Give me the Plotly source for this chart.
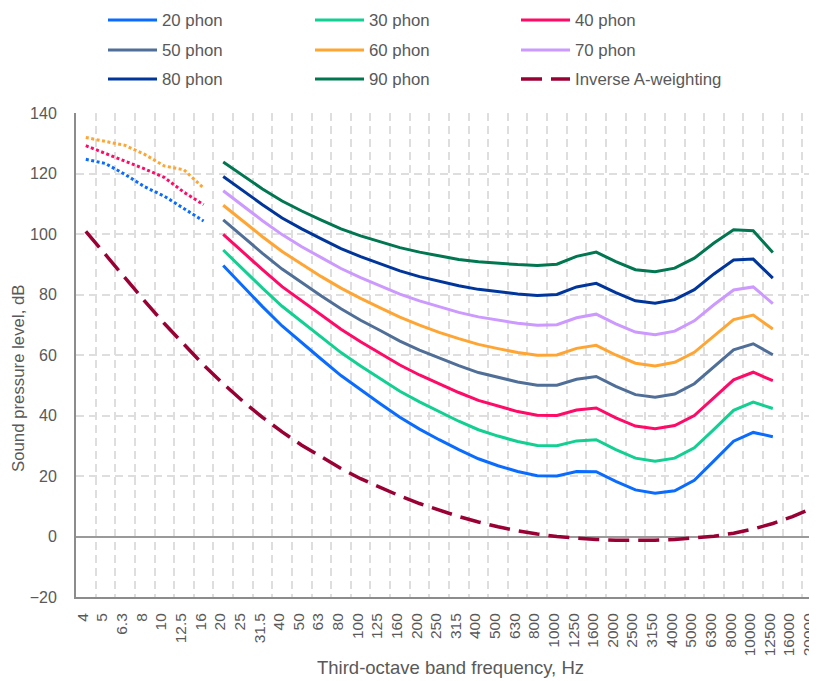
import plotly.graph_objects as go

freqs = ["4", "5", "6.3", "8", "10", "12.5", "16", "20", "25", "31.5", "40", "50", "63",
         "80", "100", "125", "160", "200", "250", "315", "400", "500", "630", "800",
         "1000", "1250", "1600", "2000", "2500", "3150", "4000", "5000", "6300", "8000",
         "10000", "12500", "16000", "20000"]
contour_freqs = freqs[7:36]
infra_freqs = freqs[0:7]

phon20 = [89.6, 82.7, 76.0, 69.6, 64.0, 58.6, 53.2, 48.4, 43.9, 39.4, 35.5, 32.0, 28.7, 25.7, 23.4,
          21.5, 20.1, 20.0, 21.5, 21.4, 18.2, 15.4, 14.3, 15.1, 18.6, 25.0, 31.5, 34.4, 33.0]
phon30 = [94.7, 88.3, 82.1, 76.1, 70.9, 65.8, 60.8, 56.4, 52.3, 48.0, 44.5, 41.2, 38.1, 35.3, 33.2,
          31.4, 30.1, 30.0, 31.6, 32.0, 28.7, 25.9, 24.9, 25.9, 29.3, 35.4, 41.7, 44.4, 42.3]
phon40 = [99.9, 93.9, 88.2, 82.6, 77.8, 73.1, 68.5, 64.4, 60.6, 56.7, 53.4, 50.4, 47.6, 45.0, 43.1,
          41.3, 40.1, 40.0, 41.8, 42.5, 39.2, 36.5, 35.6, 36.7, 40.0, 45.8, 51.8, 54.3, 51.5]
phon50 = [104.7, 99.1, 93.6, 88.4, 83.9, 79.5, 75.3, 71.5, 68.1, 64.6, 61.6, 59.0, 56.5, 54.2, 52.6,
          51.1, 50.0, 50.0, 52.0, 52.9, 49.6, 46.9, 46.0, 47.1, 50.5, 56.1, 61.7, 63.7, 60.1]
phon60 = [109.5, 104.2, 99.1, 94.2, 90.0, 85.9, 82.1, 78.7, 75.6, 72.5, 69.9, 67.5, 65.4, 63.5, 62.1,
          60.8, 59.9, 60.0, 62.2, 63.2, 60.0, 57.3, 56.4, 57.6, 60.9, 66.4, 71.7, 73.2, 68.6]
phon70 = [114.3, 109.2, 104.4, 99.8, 95.8, 92.2, 88.6, 85.6, 82.8, 80.1, 77.9, 75.9, 74.1, 72.6, 71.5,
          70.5, 69.8, 70.0, 72.3, 73.5, 70.3, 67.6, 66.7, 67.9, 71.3, 76.6, 81.5, 82.5, 77.0]
phon80 = [119.0, 114.2, 109.7, 105.3, 101.7, 98.4, 95.2, 92.5, 90.1, 87.8, 85.9, 84.3, 82.9, 81.7, 80.9,
          80.2, 79.7, 80.0, 82.5, 83.7, 80.6, 77.9, 77.1, 78.3, 81.6, 86.8, 91.4, 91.7, 85.4]
phon90 = [123.8, 119.2, 114.9, 110.9, 107.6, 104.6, 101.7, 99.4, 97.4, 95.5, 94.0, 92.7, 91.6, 90.8, 90.3,
          89.9, 89.6, 90.0, 92.6, 94.0, 90.9, 88.2, 87.5, 88.7, 92.0, 97.0, 101.4, 101.1, 93.9]

infra20 = [124.7, 123.3, 119.7, 115.6, 112.5, 108.4, 104.3]
infra40 = [129.2, 126.7, 124.0, 121.5, 118.7, 113.8, 109.7]
infra60 = [131.9, 130.5, 129.3, 126.3, 122.5, 121.2, 115.2]

inv_a = [100.9, 93.1, 85.4, 77.8, 70.4, 63.4, 56.7, 50.5, 44.7, 39.4, 34.6, 30.2, 26.2, 22.5, 19.1,
         16.1, 13.4, 10.9, 8.6, 6.6, 4.8, 3.2, 1.9, 0.8, 0.0, -0.6, -1.0, -1.2, -1.3, -1.2, -1.0,
         -0.5, 0.1, 1.1, 2.5, 4.3, 6.6, 9.3]

c20, c30, c40 = "#0a6cff", "#12cf92", "#ff0a66"
c50, c60, c70 = "#506f98", "#ffa533", "#cc99ff"
c80, c90, cinv = "#00369c", "#007651", "#990033"

series = [
    ("20 phon", phon20, c20), ("30 phon", phon30, c30), ("40 phon", phon40, c40),
    ("50 phon", phon50, c50), ("60 phon", phon60, c60), ("70 phon", phon70, c70),
    ("80 phon", phon80, c80), ("90 phon", phon90, c90),
]

font = "Liberation Sans, Arial, sans-serif"
txt = "#595959"
grid = "#dedede"

# the page body adds an 8px offset; size the figure so it fills the window
OFF = 8
W, H = 817 - OFF, 681 - OFF
PL, PT, PB = 76 - OFF, 113 - OFF, 597 - OFF   # plot-area edges in figure pixels
PW, PH = W - PL, PB - PT

fig = go.Figure()

for vals, col in [(infra20, c20), (infra40, c40), (infra60, c60)]:
    fig.add_trace(go.Scatter(x=infra_freqs, y=vals, mode="lines", showlegend=False,
                             line=dict(color=col, width=3, dash="3px,2.5px")))

legend_names = ["legend"] + ["legend%d" % i for i in range(2, 10)]
for k, (name, vals, col) in enumerate(series):
    fig.add_trace(go.Scatter(x=contour_freqs, y=vals, mode="lines", name=name,
                             legend=legend_names[k], line=dict(color=col, width=3)))

fig.add_trace(go.Scatter(x=freqs, y=inv_a, mode="lines", name="Inverse A-weighting",
                         legend=legend_names[8],
                         line=dict(color=cinv, width=3.5, dash="21px,9px")))

col_text_x = [163, 370, 576]
row_y = [20, 50, 79]
ITEMW = 49
legends = {}
for k, ln in enumerate(legend_names):
    r, c = divmod(k, 3)
    left = col_text_x[c] - OFF - (ITEMW + 11)
    legends[ln] = dict(
        orientation="h", xref="container", yref="container",
        x=left / W, y=1 - (row_y[r] - OFF) / H, xanchor="left", yanchor="middle",
        font=dict(family=font, size=16.8, color=txt),
        bgcolor="rgba(0,0,0,0)", itemwidth=ITEMW, borderwidth=0,
    )

fig.update_layout(
    width=W, height=H,
    margin=dict(l=PL, r=0, t=PT, b=H - PB, autoexpand=False),
    paper_bgcolor="white", plot_bgcolor="white",
    font=dict(family=font, color=txt),
    xaxis=dict(
        type="category", categoryorder="array", categoryarray=freqs,
        range=[-0.5, 37.25], tickson="boundaries", tickangle=-90,
        tickfont=dict(family=font, size=15.5, color=txt), ticklabeloverflow="allow",
        ticklabelshift=-3,
        showgrid=True, gridcolor=grid, griddash="8px,5px", gridwidth=1.5,
        showline=True, linecolor="#8c8c8c", linewidth=2, ticks="",
        ticklabelstandoff=8, automargin=False,
    ),
    yaxis=dict(
        range=[-20, 140], dtick=20, tick0=0,
        tickfont=dict(family=font, size=16, color=txt),
        showgrid=True, gridcolor=grid, griddash="8px,5px", gridwidth=1.5,
        showline=True, linecolor="#8c8c8c", linewidth=2, ticks="",
        zeroline=True, zerolinecolor="#9a9a9a", zerolinewidth=1.5,
        ticklabelstandoff=14, automargin=False,
    ),
    annotations=[
        dict(text="Third-octave band frequency, Hz", xref="paper", yref="paper",
             x=(450 - 76) / PW, y=(597 - 667) / PH, xanchor="center", yanchor="middle",
             showarrow=False, font=dict(family=font, size=18.5, color=txt)),
        dict(text="Sound pressure level, dB", xref="paper", yref="paper",
             x=0, xshift=18 - 76, y=(597 - 378) / PH, xanchor="center", yanchor="middle",
             textangle=-90, showarrow=False, font=dict(family=font, size=16.8, color=txt)),
    ],
    **legends,
)

fig.write_html("out.html")
